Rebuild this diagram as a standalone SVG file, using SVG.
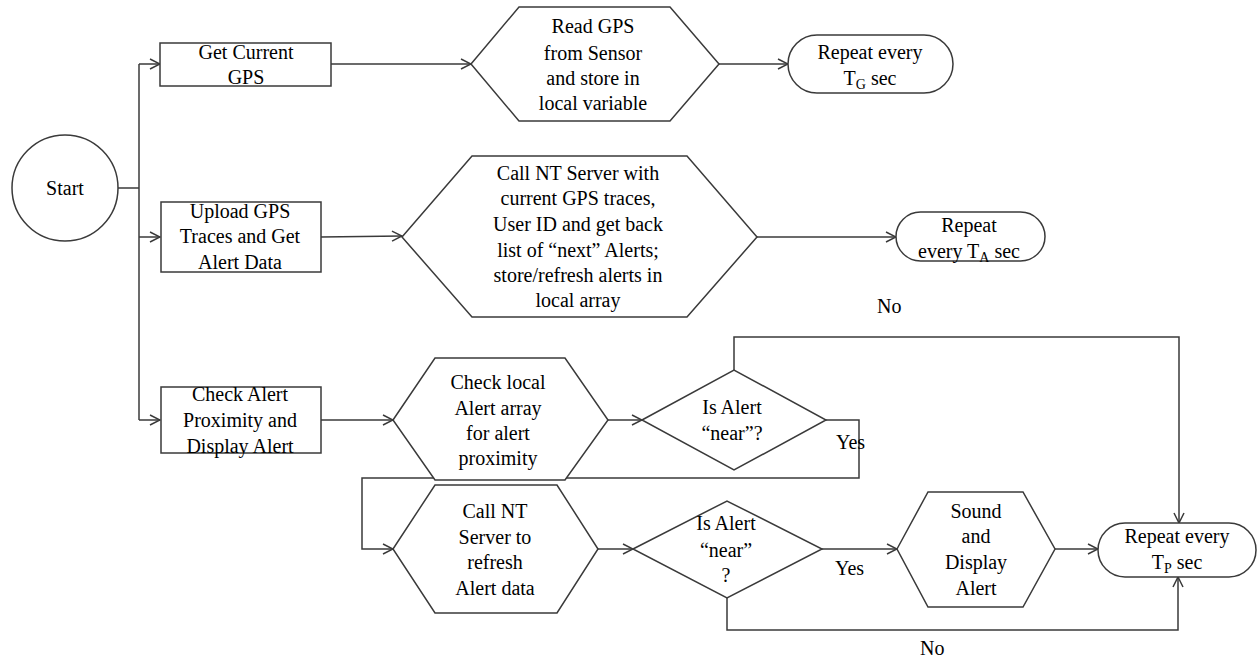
<svg xmlns="http://www.w3.org/2000/svg" width="1257" height="660" viewBox="0 0 1257 660">
<style>
.s{fill:#fff;stroke:#3a3a3a;stroke-width:1.5}
.c{fill:none;stroke:#3a3a3a;stroke-width:1.5}
text{font-family:"Liberation Serif","Times New Roman",serif;font-size:20px;fill:#000;text-anchor:middle}
.sub{font-size:14px}
.l{text-anchor:start}
</style>
<defs>
<marker id="a" viewBox="0 0 12 12" refX="11" refY="6" markerWidth="12" markerHeight="12" markerUnits="userSpaceOnUse" orient="auto">
<path d="M1,1 L11,6 L1,11" fill="none" stroke="#3a3a3a" stroke-width="1.5"/>
</marker>
</defs>
<rect width="1257" height="660" fill="#fff"/>
<g id="connectors">
<path class="c" d="M118,188 H139"/>
<path class="c" d="M139,64 V420"/>
<path class="c" d="M139,64 H160" marker-end="url(#a)"/>
<path class="c" d="M139,237 H160" marker-end="url(#a)"/>
<path class="c" d="M139,420 H160" marker-end="url(#a)"/>
<path class="c" d="M331,64 H471" marker-end="url(#a)"/>
<path class="c" d="M321,237 L402,236" marker-end="url(#a)"/>
<path class="c" d="M719,64 H788" marker-end="url(#a)"/>
<path class="c" d="M757,237 H896" marker-end="url(#a)"/>
<path class="c" d="M321,420 H393" marker-end="url(#a)"/>
<path class="c" d="M608,420 H642" marker-end="url(#a)"/>
<path class="c" d="M826,420 H859 V478 H362 V549 H393" marker-end="url(#a)"/>
<path class="c" d="M734,370 V337 H1179 V523" marker-end="url(#a)"/>
<path class="c" d="M598,549 H633" marker-end="url(#a)"/>
<path class="c" d="M822,549 H897" marker-end="url(#a)"/>
<path class="c" d="M727,598 V630 H1178 V577" marker-end="url(#a)"/>
<path class="c" d="M1055,549 H1098" marker-end="url(#a)"/>
</g>
<g id="start">
<circle class="s" cx="65" cy="188" r="53"/>
<text x="65" y="195">Start</text>
</g>
<g id="get-gps">
<rect class="s" x="160" y="43" width="171" height="43"/>
<text x="246" y="59">Get Current</text>
<text x="246" y="84">GPS</text>
</g>
<g id="upload">
<rect class="s" x="161" y="202" width="160" height="70"/>
<text x="240" y="218">Upload GPS</text>
<text x="240" y="243">Traces and Get</text>
<text x="240" y="269">Alert Data</text>
</g>
<g id="check-alert">
<rect class="s" x="161" y="387" width="160" height="66"/>
<text x="240" y="401">Check Alert</text>
<text x="240" y="427">Proximity and</text>
<text x="240" y="453">Display Alert</text>
</g>
<g id="read-gps">
<polygon class="s" points="471,64 519,7 670,7 719,64 670,121 519,121"/>
<text x="593" y="33">Read GPS</text>
<text x="593" y="60">from Sensor</text>
<text x="593" y="85">and store in</text>
<text x="593" y="110">local variable</text>
</g>
<g id="call-server">
<polygon class="s" points="402,237 472,156 687,156 757,237 687,317 472,317"/>
<text x="578" y="180">Call NT Server with</text>
<text x="578" y="205">current GPS traces,</text>
<text x="578" y="231">User ID and get back</text>
<text x="578" y="257">list of “next” Alerts;</text>
<text x="578" y="282">store/refresh alerts in</text>
<text x="578" y="307">local array</text>
</g>
<g id="repeat-g">
<rect class="s" x="788" y="35" width="165" height="58" rx="29"/>
<text x="870" y="59">Repeat every</text>
<text x="870" y="85">T<tspan class="sub" dy="4">G</tspan><tspan dy="-4"> sec</tspan></text>
</g>
<g id="repeat-a">
<rect class="s" x="896" y="212" width="149" height="49" rx="24.5"/>
<text x="969" y="232">Repeat</text>
<text x="969" y="258">every T<tspan class="sub" dy="4">A</tspan><tspan dy="-4"> sec</tspan></text>
</g>
<g id="check-local">
<polygon class="s" points="393,420 435,358 565,358 608,420 565,480 435,480"/>
<text x="498" y="389">Check local</text>
<text x="498" y="415">Alert array</text>
<text x="498" y="440">for alert</text>
<text x="498" y="465">proximity</text>
</g>
<g id="is-near-1">
<polygon class="s" points="642,420 734,370 826,420 734,470"/>
<text x="732" y="414">Is Alert</text>
<text x="732" y="440">“near”?</text>
</g>
<g id="refresh">
<polygon class="s" points="393,549 435,485 557,485 598,549 557,613 435,613"/>
<text x="495" y="518">Call NT</text>
<text x="495" y="544">Server to</text>
<text x="495" y="569">refresh</text>
<text x="495" y="595">Alert data</text>
</g>
<g id="is-near-2">
<polygon class="s" points="633,549 727,501 822,549 727,598"/>
<text x="726" y="530">Is Alert</text>
<text x="726" y="557">“near”</text>
<text x="726" y="582">?</text>
</g>
<g id="sound">
<polygon class="s" points="897,549 928,492 1023,492 1055,549 1023,607 928,607"/>
<text x="976" y="518">Sound</text>
<text x="976" y="543">and</text>
<text x="976" y="569">Display</text>
<text x="976" y="595">Alert</text>
</g>
<g id="repeat-p">
<rect class="s" x="1098" y="523" width="158" height="54" rx="27"/>
<text x="1177" y="543">Repeat every</text>
<text x="1177" y="569">T<tspan class="sub" dy="4">P</tspan><tspan dy="-4"> sec</tspan></text>
</g>
<g id="labels">
<text class="l" x="877" y="313">No</text>
<text class="l" x="836" y="449">Yes</text>
<text class="l" x="835" y="575">Yes</text>
<text class="l" x="920" y="655">No</text>
</g>
</svg>
